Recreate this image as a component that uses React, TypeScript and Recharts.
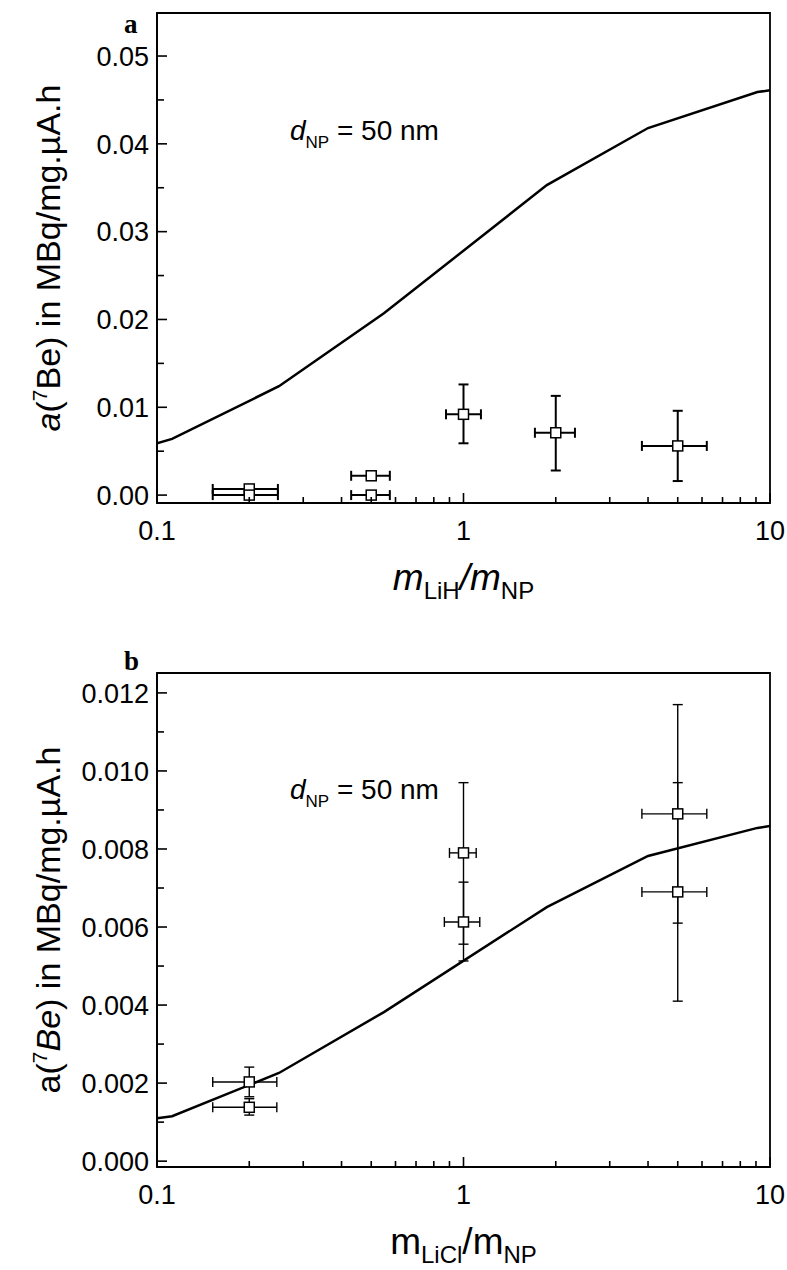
import React from 'react';
import { ComposedChart, ErrorBar, Line, ReferenceArea, Scatter, XAxis, YAxis } from 'recharts';

const SANS = '"Liberation Sans", Arial, Helvetica, sans-serif';
const SERIF = '"Liberation Serif", "Times New Roman", serif';

// model curve, same abscissae in both panels
const curveX = [0.1, 0.112, 0.25, 0.55, 1.87, 4.0, 9.1, 10];
const curveLiH = [0.0059, 0.0064, 0.0124, 0.0207, 0.0353, 0.0418, 0.0459, 0.0461];
const curveLiCl = [0.0011, 0.00115, 0.00226, 0.00382, 0.00651, 0.00782, 0.00854, 0.00859];

// panel a measurements (LiH)
const liHX = [0.2, 0.2, 0.5, 0.5, 1, 2, 5];
const liHY = [0.0007, 0.0, 0.0022, 0.0, 0.0092, 0.0071, 0.0056];
const liHYLow = [0.0007, 0.0, 0.0022, 0.0, 0.0059, 0.0028, 0.0016];
const liHYHigh = [0.0007, 0.0, 0.0022, 0.0, 0.0126, 0.0113, 0.0096];
const liHXLow = [0.152, 0.152, 0.43, 0.43, 0.877, 1.71, 3.82];
const liHXHigh = [0.248, 0.248, 0.575, 0.575, 1.14, 2.31, 6.22];

// panel b measurements (LiCl)
const liClX = [0.2, 0.2, 1, 1, 5, 5];
const liClY = [0.00203, 0.00138, 0.0079, 0.00613, 0.0089, 0.0069];
const liClYLow = [0.00165, 0.00118, 0.00556, 0.00513, 0.0061, 0.0041];
const liClYHigh = [0.00241, 0.0016, 0.0097, 0.00715, 0.0117, 0.0097];
const liClXLow = [0.152, 0.152, 0.9, 0.866, 3.82, 3.82];
const liClXHigh = [0.246, 0.246, 1.1, 1.13, 6.22, 6.22];

// ticks
const xMajor = [0.1, 1, 10];
const xMinor = [0.2, 0.3, 0.4, 0.5, 0.6, 0.7, 0.8, 0.9, 2, 3, 4, 5, 6, 7, 8, 9];
const yMajorA = [0, 0.01, 0.02, 0.03, 0.04, 0.05];
const yMinorA = [0.005, 0.015, 0.025, 0.035, 0.045];
const yMajorB = [0, 0.002, 0.004, 0.006, 0.008, 0.01, 0.012];
const yMinorB = [0.001, 0.003, 0.005, 0.007, 0.009, 0.011];

type Pt = { x: number; y: number; ex: [number, number]; ey: [number, number] };

function buildPoints(xs: number[], ys: number[], xLo: number[], xHi: number[], yLo: number[], yHi: number[]): Pt[] {
  return xs.map((x, i) => ({
    x,
    y: ys[i],
    ex: [x - xLo[i], xHi[i] - x],
    ey: [ys[i] - yLo[i], yHi[i] - ys[i]],
  }));
}

function buildCurve(ys: number[]) {
  return curveX.map((x, i) => ({ x, y: ys[i] }));
}

const TICK_FONT = 27;

function makeXTick() {
  return (props: any) => {
    const { x, y, payload } = props;
    const major = xMajor.includes(payload.value);
    return (
      <g>
        <line x1={x} x2={x} y1={y} y2={y - (major ? 10 : 6)} stroke="#000" strokeWidth={1.6} />
        {major && (
          <text x={x} y={y + 37} textAnchor="middle" fontSize={TICK_FONT} fontFamily={SANS} fill="#000">
            {String(payload.value)}
          </text>
        )}
      </g>
    );
  };
}

function makeYTick(majors: number[], digits: number) {
  return (props: any) => {
    const { x, y, payload } = props;
    const major = majors.some(m => Math.abs(m - payload.value) < 1e-9);
    return (
      <g>
        <line x1={x} x2={x + (major ? 10 : 7)} y1={y} y2={y} stroke="#000" strokeWidth={1.6} />
        {major && (
          <text x={x - 8} y={y} dy="0.36em" textAnchor="end" fontSize={TICK_FONT} fontFamily={SANS} fill="#000">
            {payload.value.toFixed(digits)}
          </text>
        )}
      </g>
    );
  };
}

const OpenSquare = (props: any) => {
  const { cx, cy } = props;
  if (cx == null || cy == null) return null;
  return <rect x={cx - 5} y={cy - 5} width={10} height={10} fill="#fff" stroke="#000" strokeWidth={1.5} />;
};

function XTitle({ viewBox, sub1, italic }: { viewBox?: any; sub1: string; italic: boolean }) {
  if (!viewBox) return null;
  const cx = viewBox.x + viewBox.width / 2;
  const base = viewBox.y + 87;
  const st = italic ? 'italic' : 'normal';
  return (
    <text x={cx} y={base} textAnchor="middle" fontFamily={SANS} fontSize={37} fill="#000">
      <tspan fontStyle={st}>m</tspan>
      <tspan fontSize={24} dy={9}>{sub1}</tspan>
      <tspan fontStyle={st} dy={-9}>/m</tspan>
      <tspan fontSize={24} dy={9}>NP</tspan>
    </text>
  );
}

function YTitle({ viewBox, panel }: { viewBox?: any; panel: 'a' | 'b' }) {
  if (!viewBox) return null;
  const bx = 60;
  const cy = viewBox.y + viewBox.height / 2;
  return (
    <text
      transform={`translate(${bx},${cy}) rotate(-90)`}
      textAnchor="middle"
      fontFamily={SANS}
      fontSize={34}
      fill="#000"
    >
      <tspan fontStyle={panel === 'a' ? 'italic' : 'normal'}>a</tspan>
      <tspan>(</tspan>
      <tspan fontSize={21} dy={-13}>7</tspan>
      <tspan dy={13} fontStyle={panel === 'b' ? 'italic' : 'normal'}>Be</tspan>
      <tspan>) in MBq/mg.µA.h</tspan>
    </text>
  );
}

interface PanelProps {
  top: number;
  height: number;
  marginTop: number;
  marginBottom: number;
  yDomain: [number, number];
  yMajor: number[];
  yMinor: number[];
  digits: number;
  curve: { x: number; y: number }[];
  points: Pt[];
  barWidth: number;
  panel: 'a' | 'b';
  sub1: string;
}

function Panel(p: PanelProps) {
  return (
    <div style={{ position: 'absolute', left: 0, top: p.top }}>
      <ComposedChart
        width={787}
        height={p.height}
        margin={{ top: p.marginTop, right: 17, bottom: p.marginBottom, left: 67 }}
      >
        <XAxis
          dataKey="x"
          type="number"
          scale="log"
          domain={[0.1, 10]}
          allowDataOverflow
          ticks={[...xMajor, ...xMinor]}
          interval={0}
          tickSize={0}
          tickMargin={0}
          tickLine={false}
          tick={makeXTick()}
          axisLine={{ stroke: '#000', strokeWidth: 1.8 }}
          height={90}
          label={{ content: (lp: any) => <XTitle viewBox={lp.viewBox} sub1={p.sub1} italic={p.panel === 'a'} /> }}
        />
        <YAxis
          dataKey="y"
          type="number"
          domain={p.yDomain}
          allowDataOverflow
          ticks={[...p.yMajor, ...p.yMinor]}
          interval={0}
          tickSize={0}
          tickMargin={0}
          tickLine={false}
          tick={makeYTick(p.yMajor, p.digits)}
          axisLine={{ stroke: '#000', strokeWidth: 1.8 }}
          width={90}
          label={{ content: (lp: any) => <YTitle viewBox={lp.viewBox} panel={p.panel} /> }}
        />
        <ReferenceArea
          x1={0.1}
          x2={10}
          y1={p.yDomain[0]}
          y2={p.yDomain[1]}
          fill="none"
          fillOpacity={0}
          stroke="#000"
          strokeWidth={1.8}
          ifOverflow="visible"
        />
        <Line
          data={p.curve}
          dataKey="y"
          type="linear"
          stroke="#000"
          strokeWidth={2.5}
          dot={false}
          activeDot={false}
          isAnimationActive={false}
        />
        <Scatter data={p.points} dataKey="y" shape={<OpenSquare />} isAnimationActive={false}>
          <ErrorBar dataKey="ex" direction="x" width={5} stroke="#000" strokeWidth={p.barWidth} />
          <ErrorBar dataKey="ey" direction="y" width={5} stroke="#000" strokeWidth={p.barWidth} />
        </Scatter>
      </ComposedChart>
    </div>
  );
}

export default function App() {
  const ptsA = buildPoints(liHX, liHY, liHXLow, liHXHigh, liHYLow, liHYHigh);
  const ptsB = buildPoints(liClX, liClY, liClXLow, liClXHigh, liClYLow, liClYHigh);
  return (
    <div style={{ position: 'absolute', left: 0, top: 0, width: 787, height: 1270, background: '#fff' }}>
      <Panel
        top={0}
        height={610}
        marginTop={13}
        marginBottom={17}
        yDomain={[-0.0009, 0.0549]}
        yMajor={yMajorA}
        yMinor={yMinorA}
        digits={2}
        curve={buildCurve(curveLiH)}
        points={ptsA}
        barWidth={2}
        panel="a"
        sub1="LiH"
      />
      <Panel
        top={600}
        height={670}
        marginTop={73}
        marginBottom={13}
        yDomain={[-0.00015, 0.01251]}
        yMajor={yMajorB}
        yMinor={yMinorB}
        digits={3}
        curve={buildCurve(curveLiCl)}
        points={ptsB}
        barWidth={1.4}
        panel="b"
        sub1="LiCl"
      />
      <svg width={787} height={1270} style={{ position: 'absolute', left: 0, top: 0, pointerEvents: 'none' }}>
        <text x={124} y={33} fontFamily={SERIF} fontWeight="bold" fontSize={27} fill="#000">a</text>
        <text x={124} y={670} fontFamily={SERIF} fontWeight="bold" fontSize={27} fill="#000">b</text>
        <text x={290} y={140} fontFamily={SANS} fontSize={28} fill="#000">
          <tspan fontStyle="italic">d</tspan>
          <tspan fontSize={17} dy={8}>NP</tspan>
          <tspan dy={-8}> = 50 nm</tspan>
        </text>
        <text x={290} y={799} fontFamily={SANS} fontSize={28} fill="#000">
          <tspan fontStyle="italic">d</tspan>
          <tspan fontSize={17} dy={8}>NP</tspan>
          <tspan dy={-8}> = 50 nm</tspan>
        </text>
      </svg>
    </div>
  );
}
